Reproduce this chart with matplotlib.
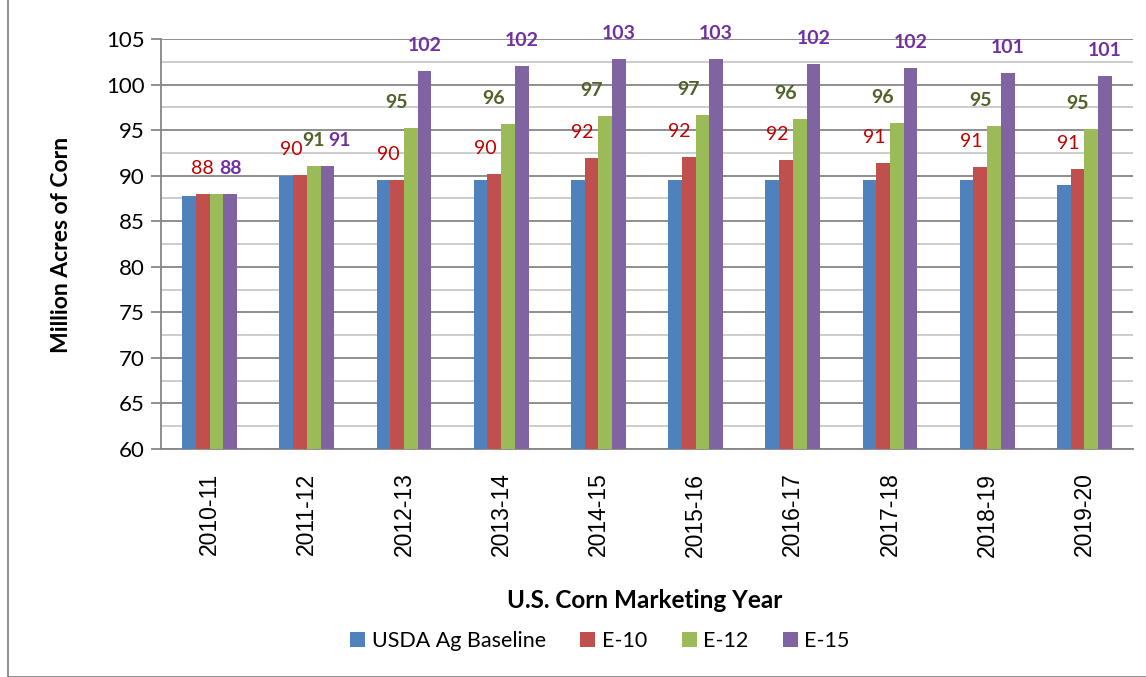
import matplotlib.pyplot as plt
import numpy as np
from matplotlib.patches import Rectangle

years = ["2010-11", "2011-12", "2012-13", "2013-14", "2014-15",
         "2015-16", "2016-17", "2017-18", "2018-19", "2019-20"]
series_names = ["USDA Ag Baseline", "E-10", "E-12", "E-15"]

baseline = [87.8, 90.0, 89.5, 89.5, 89.5, 89.5, 89.5, 89.5, 89.5, 89.0]
e10 = [87.95, 90.05, 89.5, 90.2, 91.9, 92.1, 91.7, 91.4, 91.0, 90.7]
e12 = [87.95, 91.1, 95.2, 95.7, 96.55, 96.65, 96.2, 95.8, 95.4, 95.1]
e15 = [87.95, 91.1, 101.5, 102.05, 102.8, 102.8, 102.3, 101.8, 101.3, 100.9]

# data labels as shown (green label for 2010-11 is absent in the original)
e10_labels = ["88", "90", "90", "90", "92", "92", "92", "91", "91", "91"]
e12_labels = [None, "91", "95", "96", "97", "97", "96", "96", "95", "95"]
e15_labels = ["88", "91", "102", "102", "103", "103", "102", "102", "101", "101"]

colors = ["#4F81BD", "#C0504D", "#9BBB59", "#8064A2"]
label_colors = [None, "#C00000", "#4F6228", "#7030A0"]

fig = plt.figure(figsize=(11.46, 6.77), dpi=100)
ax = fig.add_axes([161 / 1146, 1 - 449 / 677, (1133 - 161) / 1146, (449 - 39) / 677])

x = np.arange(len(years))
width = 0.141
all_vals = [baseline, e10, e12, e15]
all_labels = [None, e10_labels, e12_labels, e15_labels]
offsets = [-1.5, -0.5, 0.5, 1.5]
# horizontal label nudge in pixels (series default, a few groups moved by hand)
label_dx = [0, -9, -14, 0]
nudge = {(1, 0): 0, (2, 1): 0, (3, 1): 12}

for i, (vals, name) in enumerate(zip(all_vals, series_names)):
    xs = x + offsets[i] * width
    ax.bar(xs, np.array(vals) - 60, bottom=60, width=width, color=colors[i],
           label=name, zorder=3)
    if all_labels[i] is None:
        continue
    for j, (xi, v, lab) in enumerate(zip(xs, vals, all_labels[i])):
        if lab is None:
            continue
        dx = nudge.get((i, j), label_dx[i])
        ax.annotate(lab, (xi, v), xytext=(dx, 17), textcoords="offset pixels",
                    ha="center", va="bottom", fontsize=14, color=label_colors[i],
                    fontweight="normal" if i == 1 else "bold", family="Lato",
                    annotation_clip=False)

ax.set_xlim(-0.5, len(years) - 0.5)
ax.set_ylim(60, 105)
ax.set_yticks(np.arange(60, 106, 5))
ax.set_yticks(np.arange(62.5, 105, 5), minor=True)
ax.yaxis.grid(True, which="major", color="#868686", lw=1.3, zorder=0)
ax.yaxis.grid(True, which="minor", color="#C8C8C8", lw=1.3, zorder=0)
ax.tick_params(axis="y", which="major", length=7, width=1.3, color="#868686",
               labelsize=16, direction="out", pad=5)
ax.tick_params(axis="y", which="minor", length=0)
ax.set_xticks(x)
ax.set_xticklabels(years, rotation=90, fontsize=16.5, family="Liberation Sans")
ax.tick_params(axis="x", length=0, pad=17)
for lab in ax.get_yticklabels():
    lab.set_family("Lato")

for s in ["top", "right"]:
    ax.spines[s].set_visible(False)
ax.spines["left"].set_color("#868686")
ax.spines["bottom"].set_color("#868686")
ax.spines["left"].set_linewidth(1.3)
ax.spines["bottom"].set_linewidth(1.3)

fig.text(62 / 1146, 1 - 245 / 677, "Million Acres of Corn", rotation=90,
         ha="center", va="center", fontsize=16.5, fontweight="bold", family="Lato")
fig.text(645 / 1146, 1 - 601 / 677, "U.S. Corn Marketing Year",
         ha="center", va="center", fontsize=17.5, fontweight="bold", family="Lato")

leg = fig.legend(loc="center", bbox_to_anchor=(600 / 1146, 1 - 641 / 677), ncol=4,
                 frameon=False, handlelength=0.7, handleheight=0.7,
                 handletextpad=0.3, columnspacing=1.6, prop={"family": "Lato", "size": 15.5})

fig.patches.append(Rectangle((8 / 1146, 0), 1 - 8 / 1146 + 0.01, 1 + 0.01,
                             transform=fig.transFigure, fill=False,
                             edgecolor="#868686", lw=1.3))

fig.savefig("out.png", dpi=100)
